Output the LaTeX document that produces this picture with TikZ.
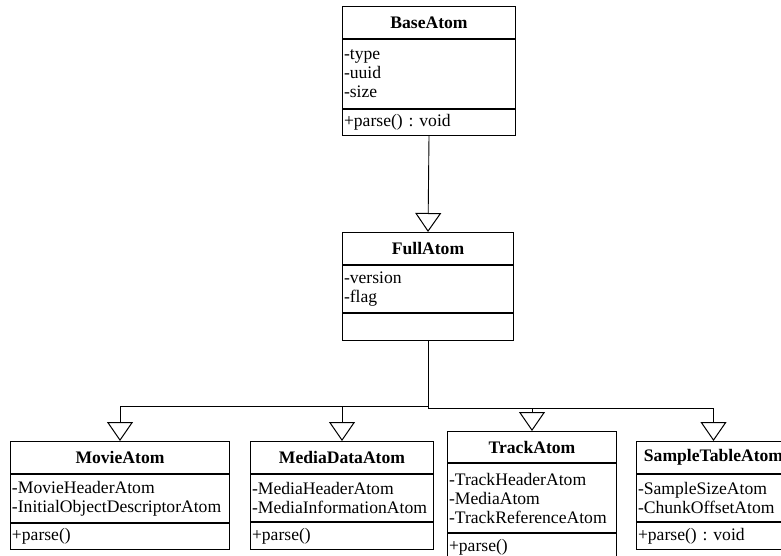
\documentclass[tikz,border=0pt]{standalone}
\usepackage{fontspec}
\setmainfont{Liberation Serif}
\usetikzlibrary{arrows.meta}
\frenchspacing

\tikzset{
  classpart/.style={draw, line width=1pt, inner xsep=1.5pt, inner ysep=0pt,
    anchor=north west, font=\fontsize{17.6}{19}\selectfont},
  classtitle/.style={classpart, font=\fontsize{17.6}{19}\selectfont\bfseries, align=center},
  classbody/.style={classpart, align=left},
  inherit/.style={draw, line width=0.9pt,
    -{Triangle[open, length=19pt, width=26pt, line width=1pt]}}
}

% #1 name, #2 top-left corner, #3 width, #4-#6 section heights,
% #7 class name, #8 attributes, #9 operations
\newcommand\umlclass[9]{%
  \pgfmathsetlengthmacro\umltw{#3-3pt}%
  \node[classtitle, minimum width=#3pt, minimum height=#4pt] (#1-t) at #2 {#7};
  \node[classbody, minimum width=#3pt, minimum height=#5pt, text width=\umltw]
    (#1-a) at (#1-t.south west) {#8};
  \node[classbody, minimum width=#3pt, minimum height=#6pt, text width=\umltw]
    (#1-o) at (#1-a.south west) {#9};
}

\begin{document}
\begin{tikzpicture}[x=1pt, y=-1pt]
  \useasboundingbox (0,0) rectangle (781,556);
  \clip (0,0) rectangle (781,556);

  \umlclass{base}{(342,6)}{173}{32}{69}{26}{BaseAtom}{-type\\-uuid\\-size}{+parse() : void}
  \umlclass{full}{(342,232)}{171}{32}{47}{27}{FullAtom}{-version\\-flag}{}
  \umlclass{movie}{(10,441)}{219}{32}{48}{26}{MovieAtom}{-MovieHeaderAtom\\-InitialObjectDescriptorAtom}{+parse()}
  \umlclass{media}{(250,441)}{183}{32}{47}{27}{MediaDataAtom}{-MediaHeaderAtom\\-MediaInformationAtom}{+parse()}
  \umlclass{track}{(447,431)}{169}{31}{69}{27}{TrackAtom}{-TrackHeaderAtom\\-MediaAtom\\-TrackReferenceAtom}{+parse()}
  \umlclass{sample}{(636,441)}{154}{32}{47}{27}{SampleTableAtom}{-SampleSizeAtom\\-ChunkOffsetAtom}{+parse() : void}

  % generalisation links
  \draw[inherit] (base-o.south) -- (full-t.north);

  \coordinate (busL) at (0,406);
  \coordinate (busR) at (0,408.5);
  \draw[inherit] (full-o.south) -- (full-o.south |- busL) -| (movie-t.north);
  \draw[inherit] (full-o.south) -- (full-o.south |- busL) -| (media-t.north);
  \draw[inherit] (full-o.south) -- (full-o.south |- busR) -| (track-t.north);
  \draw[inherit] (full-o.south) -- (full-o.south |- busR) -| (sample-t.north);
\end{tikzpicture}
\end{document}
